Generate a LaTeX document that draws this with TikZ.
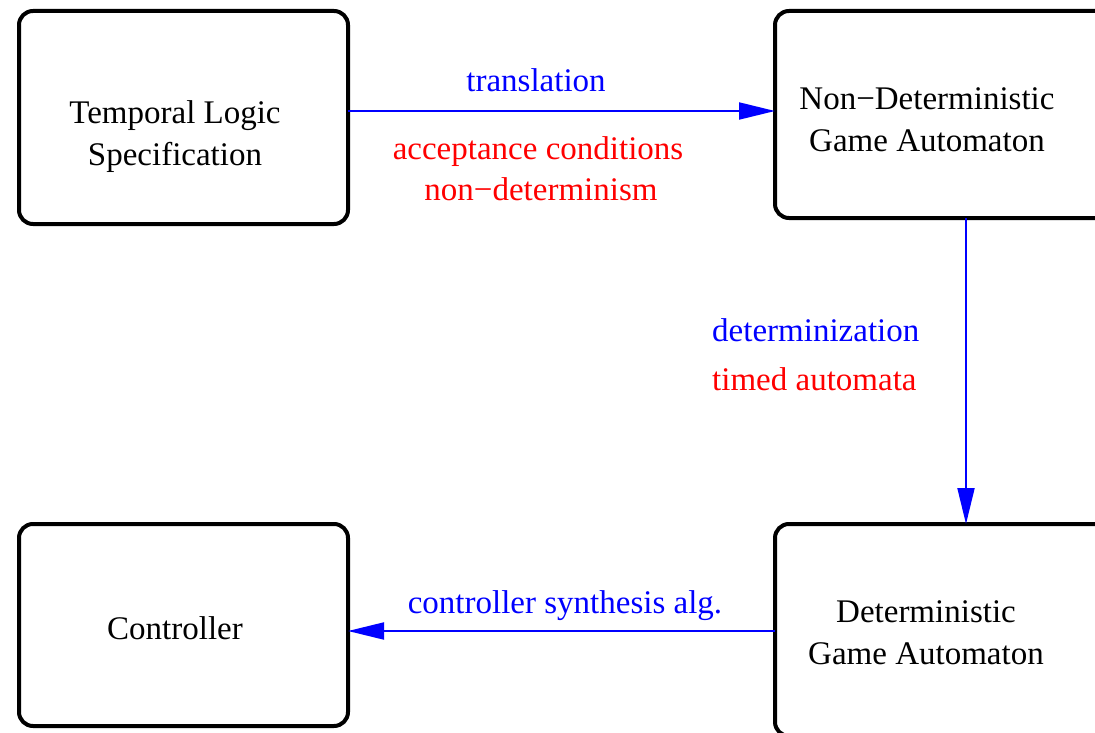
\documentclass[tikz,border=0pt]{standalone}
\usepackage{fontspec}
\setmainfont{Liberation Serif}
\usetikzlibrary{arrows.meta}
\definecolor{pblue}{RGB}{0,0,255}
\definecolor{pred}{RGB}{255,0,0}
\begin{document}
\begin{tikzpicture}[x=1pt,y=-1pt,
  box/.style={draw=black,line width=4pt,rounded corners=14pt,outer sep=0pt,inner sep=0pt,fill=none},
  txt/.style={font=\fontsize{33}{42}\selectfont,align=center,anchor=base,inner sep=0pt},
  blab/.style={txt,text=pblue},
  rlab/.style={txt,text=pred},
  conn/.style={draw=pblue,line width=2pt,-{Triangle[length=36pt,width=17pt]}}]
\useasboundingbox (0,0) rectangle (1095,733);
\clip (0,0) rectangle (1095,733);
% boxes
\node[box,minimum width=329pt,minimum height=213pt] (tl) at (183.5,117.5) {};
\node[box,minimum width=336pt,minimum height=207pt] (nd) at (943,114.5) {};
\node[box,minimum width=329pt,minimum height=202pt] (ct) at (183.5,625) {};
\node[box,minimum width=336pt,minimum height=212pt] (dg) at (943,630) {};
% box texts (base anchor = baseline of last line)
\node[txt] (tlt) at (175,165) {Temporal Logic\\Specification};
\node[txt] (ndt) at (927,151) {Non−Deterministic\\Game Automaton};
\node[txt] (ctt) at (175,639) {Controller};
\node[txt] (dgt) at (926,664) {Deterministic\\Game Automaton};
% connectors
\draw[conn] (tl.east |- 0,111) -- (nd.west |- 0,111);
\draw[conn] (nd.south -| 966,0) -- (dg.north -| 966,0);
\draw[conn] (dg.west |- 0,631) -- (ct.east |- 0,631);
% labels
\node[blab] (l1) at (536,92) {translation};
\node[rlab] (l2) at (538,160) {acceptance conditions};
\node[rlab] (l3) at (541,200) {non−determinism};
\node[blab,anchor=base west] (l4) at (712,341) {determinization};
\node[rlab,anchor=base west] (l5) at (712,390) {timed automata};
\node[blab] (l6) at (565,613) {controller synthesis alg.};
\end{tikzpicture}
\end{document}
